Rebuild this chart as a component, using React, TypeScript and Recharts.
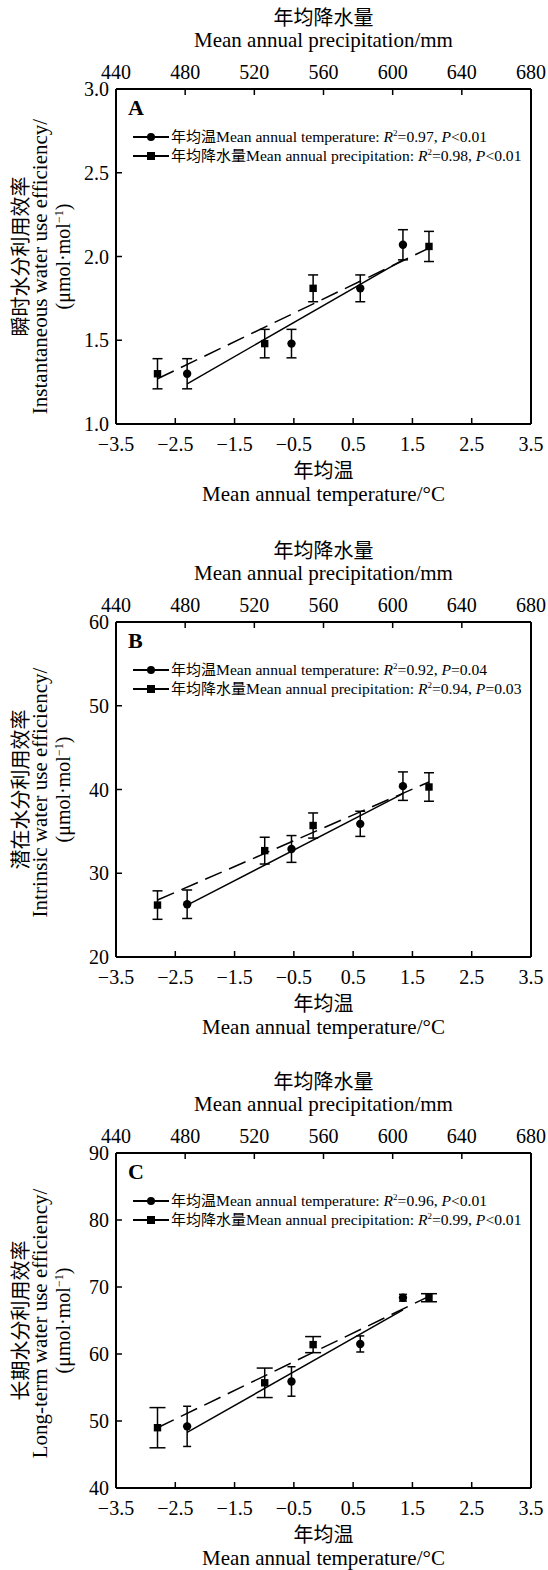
import React from 'react';
import {
  ComposedChart,
  XAxis,
  YAxis,
  ZAxis,
  Scatter,
  Line,
  ErrorBar,
  Legend,
  ReferenceLine
} from 'recharts';

const SERIF = '"Liberation Serif", "Times New Roman", serif';
const CJK = '"Noto Sans CJK SC", sans-serif';

// axis ticks
const tempTicks = [-3.5, -2.5, -1.5, -0.5, 0.5, 1.5, 2.5, 3.5];
const precTicks = [440, 480, 520, 560, 600, 640, 680];

// the four sites: mean annual temperature (°C) and precipitation (mm)
const siteTemp = [-2.3, -0.54, 0.62, 1.34];
const sitePrec = [464, 526, 554, 621];

// A: instantaneous WUE
const instT = [1.3, 1.48, 1.81, 2.07];
const instTErr = [0.09, 0.085, 0.08, 0.09];
const instP = [1.3, 1.48, 1.81, 2.06];
const instPErr = [0.09, 0.085, 0.08, 0.09];
const instTFit = [1.24, 1.98];
const instPFit = [1.27, 2.05];
const instTicks = [1.0, 1.5, 2.0, 2.5, 3.0];

// B: intrinsic WUE
const intrT = [26.3, 32.9, 35.9, 40.4];
const intrTErr = [1.7, 1.6, 1.5, 1.7];
const intrP = [26.2, 32.7, 35.7, 40.3];
const intrPErr = [1.7, 1.6, 1.5, 1.7];
const intrTFit = [26.2, 39.5];
const intrPFit = [26.8, 40.9];
const intrTicks = [20, 30, 40, 50, 60];

// C: long-term WUE
const longT = [49.2, 55.9, 61.5, 68.4];
const longTErr = [3.0, 2.2, 1.2, 0.5];
const longP = [49.0, 55.7, 61.4, 68.4];
const longPErr = [3.0, 2.2, 1.2, 0.6];
const longTFit = [48.3, 66.6];
const longPFit = [49.0, 68.6];
const longTicks = [40, 50, 60, 70, 80, 90];

const axisLine = { stroke: '#000', strokeWidth: 2 };
const tickLine = { stroke: '#000', strokeWidth: 1.5 };
const tickStyle = { fontSize: 20, fontFamily: SERIF, fill: '#000' };
const minus = (v: number) => (v < 0 ? '\u2212' + Math.abs(v).toFixed(1) : v.toFixed(1));

const topTitle = (props: any) => {
  const vb = props.viewBox;
  const cx = vb.x + vb.width / 2;
  const edge = vb.y + vb.height;
  return (
    <g>
      <text x={cx} y={edge - 64} textAnchor="middle" fontSize={20} fontFamily={CJK} fill="#000">年均降水量</text>
      <text x={cx} y={edge - 42} textAnchor="middle" fontSize={21} fontFamily={SERIF} fill="#000">Mean annual precipitation/mm</text>
    </g>
  );
};

const bottomTitle = (props: any) => {
  const vb = props.viewBox;
  const cx = vb.x + vb.width / 2;
  const edge = vb.y;
  return (
    <g>
      <text x={cx} y={edge + 54} textAnchor="middle" fontSize={20} fontFamily={CJK} fill="#000">年均温</text>
      <text x={cx} y={edge + 77} textAnchor="middle" fontSize={21} fontFamily={SERIF} fill="#000">Mean annual temperature/°C</text>
    </g>
  );
};

const leftTitle = (lines: string[], shift: number) => (props: any) => {
  const vb = props.viewBox;
  const cy = vb.y + vb.height / 2;
  const x0 = vb.x;
  const xs = [x0 - 28, x0 - 9, x0 + 14];
  return (
    <g fill="#000">
      <text x={xs[0]} y={cy} transform={`rotate(-90, ${xs[0]}, ${cy})`} textAnchor="middle" fontSize={20} fontFamily={CJK}>{lines[0]}</text>
      <text x={xs[1]} y={cy + shift} transform={`rotate(-90, ${xs[1]}, ${cy + shift})`} textAnchor="middle" fontSize={21} fontFamily={SERIF}>{lines[1]}</text>
      <text x={xs[2]} y={cy} transform={`rotate(-90, ${xs[2]}, ${cy})`} textAnchor="middle" fontSize={20} fontFamily={SERIF}>
        <tspan>{'(\u03bcmol\u00b7mol'}</tspan>
        <tspan dy={-7} fontSize={12}>{'\u22121'}</tspan>
        <tspan dy={7}>)</tspan>
      </text>
    </g>
  );
};

const statLine = (zh: string, en: string, r2: string, pv: string, y: number) => (
  <text x={55} y={y} fontSize={15.6} fontFamily={SERIF} fill="#000">
    <tspan fontFamily={CJK} fontSize={15}>{zh}</tspan>
    <tspan>{en + ': '}</tspan>
    <tspan fontStyle="italic">R</tspan>
    <tspan dy={-6} fontSize={9}>2</tspan>
    <tspan dy={6}>{'=' + r2 + ', '}</tspan>
    <tspan fontStyle="italic">P</tspan>
    <tspan>{pv}</tspan>
  </text>
);

const legendBox = (letter: string, statT: string[], statP: string[]) => () => (
  <svg width={414} height={80} style={{ display: 'block' }}>
    <text x={12} y={23} fontFamily={SERIF} fontWeight="bold" fontSize={22} fill="#000">{letter}</text>
    <line x1={17} x2={53} y1={45} y2={45} stroke="#000" strokeWidth={2} />
    <circle cx={35} cy={45} r={4} fill="#000" />
    {statLine('年均温', 'Mean annual temperature', statT[0], statT[1], 50)}
    <line x1={17} x2={53} y1={64} y2={64} stroke="#000" strokeWidth={2} />
    <rect x={31} y={60} width={8} height={8} fill="#000" />
    {statLine('年均降水量', 'Mean annual precipitation', statP[0], statP[1], 69)}
  </svg>
);

type PanelProps = {
  letter: string;
  yTicks: number[];
  yTitle: string[];
  yShift: number;
  tVals: number[];
  tErr: number[];
  pVals: number[];
  pErr: number[];
  tFit: number[];
  pFit: number[];
  statT: string[];
  statP: string[];
  capT: number;
  capP: number;
  decimals: number;
};

function Panel(p: PanelProps) {
  const tempPts = siteTemp.map((x, i) => ({ x, y: p.tVals[i], err: p.tErr[i] }));
  const precPts = sitePrec.map((x, i) => ({ x, y: p.pVals[i], err: p.pErr[i] }));
  const tempFit = [
    { x: siteTemp[0], y: p.tFit[0] },
    { x: siteTemp[3], y: p.tFit[1] }
  ];
  const precFit = [
    { x: sitePrec[0], y: p.pFit[0] },
    { x: sitePrec[3], y: p.pFit[1] }
  ];
  const yMin = p.yTicks[0];
  const yMax = p.yTicks[p.yTicks.length - 1];
  return (
    <ComposedChart width={548} height={506} margin={{ top: 59, right: 17, bottom: 52, left: 56 }}>
      <XAxis
        xAxisId="prec"
        orientation="top"
        type="number"
        dataKey="x"
        domain={[440, 680]}
        ticks={precTicks}
        interval={0}
        height={30}
        tickSize={-6}
        tickMargin={16}
        axisLine={axisLine}
        tickLine={tickLine}
        tick={tickStyle}
        label={topTitle}
      />
      <XAxis
        xAxisId="temp"
        orientation="bottom"
        type="number"
        dataKey="x"
        domain={[-3.5, 3.5]}
        ticks={tempTicks}
        interval={0}
        height={30}
        tickSize={-6}
        tickMargin={19}
        tickFormatter={minus}
        axisLine={axisLine}
        tickLine={tickLine}
        tick={tickStyle}
        label={bottomTitle}
      />
      <YAxis
        yAxisId="v"
        type="number"
        domain={[yMin, yMax]}
        ticks={p.yTicks}
        interval={0}
        width={60}
        tickSize={-6}
        tickMargin={13}
        tickFormatter={(v: number) => (p.decimals ? v.toFixed(p.decimals) : String(v))}
        axisLine={axisLine}
        tickLine={tickLine}
        tick={tickStyle}
        label={leftTitle(p.yTitle, p.yShift)}
      />
      <ZAxis range={[55, 55]} />
      <ReferenceLine xAxisId="temp" yAxisId="v" x={3.5} stroke="#000" strokeWidth={2} />

      {/* fitted lines */}
      <Line
        xAxisId="temp"
        yAxisId="v"
        data={tempFit}
        dataKey="y"
        type="linear"
        stroke="#000"
        strokeWidth={1.5}
        dot={false}
        activeDot={false}
        isAnimationActive={false}
      />
      <Line
        xAxisId="prec"
        yAxisId="v"
        data={precFit}
        dataKey="y"
        type="linear"
        stroke="#000"
        strokeWidth={1.5}
        strokeDasharray="18 8"
        dot={false}
        activeDot={false}
        isAnimationActive={false}
      />

      {/* site means with error bars */}
      <Scatter xAxisId="temp" yAxisId="v" data={tempPts} dataKey="y" shape="circle" fill="#000" isAnimationActive={false}>
        <ErrorBar dataKey="err" direction="y" width={p.capT} stroke="#000" strokeWidth={1.5} isAnimationActive={false} />
      </Scatter>
      <Scatter xAxisId="prec" yAxisId="v" data={precPts} dataKey="y" shape="square" fill="#000" isAnimationActive={false}>
        <ErrorBar dataKey="err" direction="y" width={p.capP} stroke="#000" strokeWidth={1.5} isAnimationActive={false} />
      </Scatter>

      <Legend
        layout="vertical"
        align="center"
        verticalAlign="middle"
        content={legendBox(p.letter, p.statT, p.statP)}
        wrapperStyle={{ top: 92, left: 116, width: 414 }}
      />
    </ComposedChart>
  );
}

export default function App() {
  return (
    <div
      style={{
        position: 'absolute',
        top: 0,
        left: 0,
        width: 548,
        height: 1570,
        overflow: 'hidden',
        background: '#fff',
        fontFamily: SERIF
      }}
    >
      <div style={{ position: 'absolute', top: 0, left: 0 }}>
        <Panel
          letter="A"
          yTicks={instTicks}
          decimals={1}
          yTitle={['瞬时水分利用效率', 'Instantaneous water use efficiency/']}
          yShift={10}
          tVals={instT}
          tErr={instTErr}
          pVals={instP}
          pErr={instPErr}
          tFit={instTFit}
          pFit={instPFit}
          statT={['0.97', '<0.01']}
          statP={['0.98', '<0.01']}
          capT={5}
          capP={5}
        />
      </div>
      <div style={{ position: 'absolute', top: 533, left: 0 }}>
        <Panel
          letter="B"
          yTicks={intrTicks}
          decimals={0}
          yTitle={['潜在水分利用效率', 'Intrinsic water use efficiency/']}
          yShift={3}
          tVals={intrT}
          tErr={intrTErr}
          pVals={intrP}
          pErr={intrPErr}
          tFit={intrTFit}
          pFit={intrPFit}
          statT={['0.92', '=0.04']}
          statP={['0.94', '=0.03']}
          capT={5}
          capP={5}
        />
      </div>
      <div style={{ position: 'absolute', top: 1064, left: 0 }}>
        <Panel
          letter="C"
          yTicks={longTicks}
          decimals={0}
          yTitle={['长期水分利用效率', 'Long-term water use efficiency/']}
          yShift={3}
          tVals={longT}
          tErr={longTErr}
          pVals={longP}
          pErr={longPErr}
          tFit={longTFit}
          pFit={longPFit}
          statT={['0.96', '<0.01']}
          statP={['0.99', '<0.01']}
          capT={4}
          capP={8}
        />
      </div>
    </div>
  );
}
